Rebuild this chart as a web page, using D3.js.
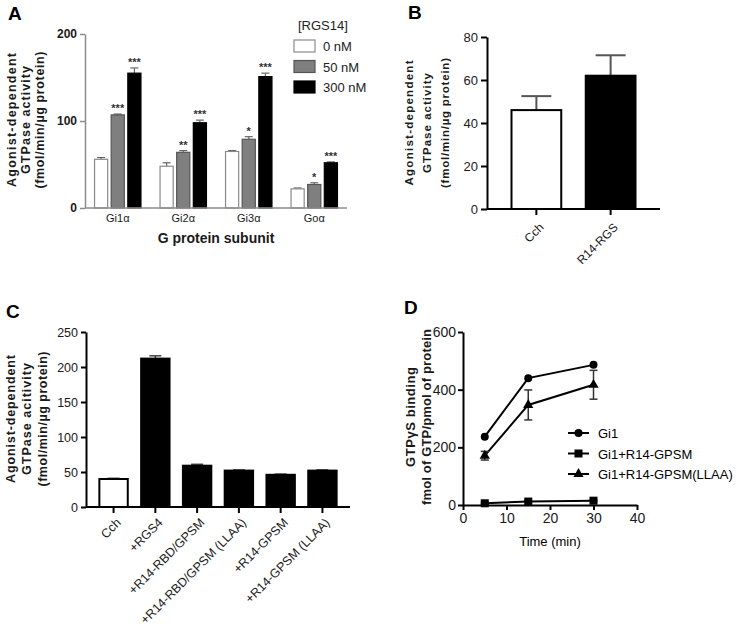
<!DOCTYPE html>
<html>
<head>
<meta charset="utf-8">
<script src="https://cdn.jsdelivr.net/npm/d3@7"></script>
<style>
body { margin: 0; background: white; }
text { font-family: "Liberation Sans", Arial, sans-serif; }
</style>
</head>
<body>
<svg id="view" width="750" height="629"></svg>
<script>
// DATA
var A_GROUPS = ["Gi1\u03b1", "Gi2\u03b1", "Gi3\u03b1", "Go\u03b1"];
var A_SERIES = ["0 nM", "50 nM", "300 nM"];
var A_VALUES = [
    [56, 48, 65, 22],
    [107, 64, 79, 27],
    [155, 98, 151, 52],
];
var A_ERRORS = [
    [2, 4, 1, 1],
    [1, 2, 3, 2],
    [6, 3, 4, 1],
];
var A_STARS = [
    ["", "", "", ""],
    ["***", "**", "*", "*"],
    ["***", "***", "***", "***"],
];
var A_TICKS = [0, 100, 200];

var B_CATS = ["Cch", "R14-RGS"];
var B_VALUES = [46, 62];
var B_ERRORS = [6.5, 9.5];
var B_TICKS = [0, 20, 40, 60, 80];

var C_CATS = ["Cch", "+RGS4", "+R14-RBD/GPSM", "+R14-RBD/GPSM (LLAA)", "+R14-GPSM", "+R14-GPSM (LLAA)"];
var C_VALUES = [40, 212, 59, 52, 46, 52];
var C_ERRORS = [1, 4, 2, 1, 1, 1];
var C_TICKS = [0, 50, 100, 150, 200, 250];

var D_TIMES = [5, 15, 30];
var D_SERIES = ["Gi1", "Gi1+R14-GPSM", "Gi1+R14-GPSM(LLAA)"];
var D_VALUES = [
    [237, 440, 486],
    [6, 12, 15],
    [171, 347, 417],
];
var D_ERRORS = [
    [0, 0, 0],
    [3, 3, 3],
    [15, 52, 50],
];
var D_XTICKS = [0, 10, 20, 30, 40];
var D_YTICKS = [0, 200, 400, 600];

// CONSTANTS
var A_FILLS = ["white", "#7f7f7f", "black"];
var A_STROKES = ["#8a8a8a", "#555", "black"];
var GRAY_AXIS = "#8c8c8c";
var TEXT = "#1a1a1a";
var ACTIVITY = ["Agonist-dependent", "GTPase activity", "(fmol/min/\u00b5g protein)"];


function panelLetter(svg, x, y, letter) {
    svg.append("text")
        .attr("x", x)
        .attr("y", y)
        .attr("font-size", 19)
        .attr("font-weight", "bold")
        .attr("fill", "black")
        .text(letter);
}

// stacked rotated title; lengths stretch the letter spacing like the scan
function yTitle(svg, xs, cy, lines, size, lengths) {
    for (var i = 0; i < lines.length; i++) {
        var t = svg.append("text")
            .attr("transform", "translate(" + xs[i] + "," + cy + ") rotate(-90)")
            .attr("text-anchor", "middle")
            .attr("dominant-baseline", "middle")
            .attr("font-size", size)
            .attr("font-weight", "bold")
            .attr("fill", TEXT)
            .text(lines[i]);
        if (lengths) {
            t.attr("textLength", lengths[i]).attr("lengthAdjust", "spacing");
        }
    }
}

function styleAxis(g, color, width, size) {
    g.selectAll(".domain").attr("stroke", color).attr("stroke-width", width);
    g.selectAll(".tick line").attr("stroke", color).attr("stroke-width", width);
    g.selectAll(".tick text")
        .attr("fill", TEXT)
        .attr("font-size", size)
        .attr("font-family", "Liberation Sans, Arial, sans-serif");
}

// Panel A
function createA(svg) {
    panelLetter(svg, 8, 20, "A");
    var x0 = d3.scaleBand().domain(A_GROUPS).range([85, 347]).paddingInner(0.2).paddingOuter(0.1);
    var x1 = d3.scaleBand().domain(A_SERIES).range([0, x0.bandwidth()]).padding(0.15);
    var y = d3.scaleLinear().domain([0, 200]).range([208, 34]);

    for (var s = 0; s < A_SERIES.length; s++) {
        for (var g = 0; g < A_GROUPS.length; g++) {
            var bx = x0(A_GROUPS[g]) + x1(A_SERIES[s]);
            var v = A_VALUES[s][g];
            var e = A_ERRORS[s][g];
            var cx = bx + x1.bandwidth() / 2;
            svg.append("line")
                .attr("x1", cx).attr("x2", cx)
                .attr("y1", y(v)).attr("y2", y(v + e))
                .attr("stroke", "#666").attr("stroke-width", 1.2);
            svg.append("line")
                .attr("x1", cx - 4).attr("x2", cx + 4)
                .attr("y1", y(v + e)).attr("y2", y(v + e))
                .attr("stroke", "#666").attr("stroke-width", 1.2);
            svg.append("rect")
                .attr("x", bx + 0.5)
                .attr("y", y(v))
                .attr("width", x1.bandwidth() - 1)
                .attr("height", y(0) - y(v))
                .attr("fill", A_FILLS[s])
                .attr("stroke", A_STROKES[s])
                .attr("stroke-width", 1.2);
            if (A_STARS[s][g]) {
                svg.append("text")
                    .attr("x", cx)
                    .attr("y", y(v + e) - 2)
                    .attr("text-anchor", "middle")
                    .attr("font-size", 11)
                    .attr("font-weight", "bold")
                    .attr("fill", "#333")
                    .text(A_STARS[s][g]);
            }
        }
    }

    var ya = svg.append("g").attr("transform", "translate(85,0)")
        .call(d3.axisLeft(y).tickValues(A_TICKS).tickSize(5).tickSizeOuter(0));
    styleAxis(ya, GRAY_AXIS, 1.5, 12);
    ya.selectAll(".tick text").attr("font-weight", "bold");
    var xa = svg.append("g").attr("transform", "translate(0,208)")
        .call(d3.axisBottom(x0).tickSize(0).tickSizeOuter(0).tickPadding(6));
    styleAxis(xa, GRAY_AXIS, 1.5, 11);
    xa.select(".domain").attr("d", "M85,0H347");

    yTitle(svg, [13, 27, 41], 120, ACTIVITY, 12.5, [134, 108, 137]);
    svg.append("text")
        .attr("x", 216).attr("y", 243)
        .attr("text-anchor", "middle")
        .attr("font-size", 14).attr("font-weight", "bold")
        .attr("fill", TEXT)
        .text("G protein subunit");

    // legend
    svg.append("text")
        .attr("x", 298).attr("y", 30)
        .attr("font-size", 13).attr("fill", "#222")
        .text("[RGS14]");
    for (var i = 0; i < A_SERIES.length; i++) {
        var ly = 40 + i * 20.5;
        svg.append("rect")
            .attr("x", 294).attr("y", ly)
            .attr("width", 21).attr("height", 12)
            .attr("fill", A_FILLS[i])
            .attr("stroke", A_STROKES[i]).attr("stroke-width", 1.2);
        svg.append("text")
            .attr("x", 323).attr("y", ly + 11)
            .attr("font-size", 13).attr("fill", "#222")
            .text(A_SERIES[i]);
    }
}

// Panel B
function createB(svg) {
    panelLetter(svg, 408, 19, "B");
    var x = d3.scaleBand().domain(B_CATS).range([487, 660]).padding(0.33);
    var y = d3.scaleLinear().domain([0, 80]).range([209, 37]);
    for (var i = 0; i < B_CATS.length; i++) {
        var cx = x(B_CATS[i]) + x.bandwidth() / 2;
        var v = B_VALUES[i], e = B_ERRORS[i];
        svg.append("line")
            .attr("x1", cx).attr("x2", cx)
            .attr("y1", y(v)).attr("y2", y(v + e))
            .attr("stroke", "#555").attr("stroke-width", 2);
        svg.append("line")
            .attr("x1", cx - 15).attr("x2", cx + 15)
            .attr("y1", y(v + e)).attr("y2", y(v + e))
            .attr("stroke", "#555").attr("stroke-width", 2);
        svg.append("rect")
            .attr("x", x(B_CATS[i]))
            .attr("y", y(v))
            .attr("width", x.bandwidth())
            .attr("height", y(0) - y(v))
            .attr("fill", i === 0 ? "white" : "black")
            .attr("stroke", "black")
            .attr("stroke-width", 2);
    }
    var ya = svg.append("g").attr("transform", "translate(487,0)")
        .call(d3.axisLeft(y).tickValues(B_TICKS).tickSize(6).tickSizeOuter(0));
    styleAxis(ya, "black", 2, 13);
    var xa = svg.append("g").attr("transform", "translate(0,209)")
        .call(d3.axisBottom(x).tickSize(6).tickSizeOuter(0));
    styleAxis(xa, "black", 2, 12);
    xa.select(".domain").attr("d", "M487,0H660");
    xa.selectAll(".tick text")
        .attr("text-anchor", "end")
        .attr("transform", "translate(0,6) rotate(-45)")
        .attr("dx", "-0.3em").attr("dy", "0.5em");
    yTitle(svg, [410, 428, 446], 123, ACTIVITY, 11.5, [125, 100, 130]);
}

// Panel C
function createC(svg) {
    panelLetter(svg, 6, 318, "C");
    var x = d3.scaleBand().domain(C_CATS).range([86, 350]).padding(0.32);
    var y = d3.scaleLinear().domain([0, 250]).range([507, 332]);
    for (var i = 0; i < C_CATS.length; i++) {
        var cx = x(C_CATS[i]) + x.bandwidth() / 2;
        var v = C_VALUES[i], e = C_ERRORS[i];
        svg.append("line")
            .attr("x1", cx).attr("x2", cx)
            .attr("y1", y(v)).attr("y2", y(v + e))
            .attr("stroke", "#444").attr("stroke-width", 1.5);
        svg.append("line")
            .attr("x1", cx - 6).attr("x2", cx + 6)
            .attr("y1", y(v + e)).attr("y2", y(v + e))
            .attr("stroke", "#444").attr("stroke-width", 1.5);
        svg.append("rect")
            .attr("x", x(C_CATS[i]))
            .attr("y", y(v))
            .attr("width", x.bandwidth())
            .attr("height", y(0) - y(v))
            .attr("fill", i === 0 ? "white" : "black")
            .attr("stroke", "black")
            .attr("stroke-width", 2);
    }
    var ya = svg.append("g").attr("transform", "translate(86,0)")
        .call(d3.axisLeft(y).tickValues(C_TICKS).tickSize(5).tickSizeOuter(0));
    styleAxis(ya, "black", 2, 12.5);
    var xa = svg.append("g").attr("transform", "translate(0,507)")
        .call(d3.axisBottom(x).tickSize(6).tickSizeOuter(0));
    styleAxis(xa, "black", 2, 12.5);
    xa.select(".domain").attr("d", "M86,0H350");
    xa.selectAll(".tick text")
        .attr("text-anchor", "end")
        .attr("transform", "translate(0,3) rotate(-45)")
        .attr("dx", "-0.3em").attr("dy", "0.5em");
    yTitle(svg, [12, 28, 44], 419, ["Agonist-dependent", "GTPase acitivity", "(fmol/min/\u00b5g protein)"], 12.5, [128, 112, 135]);
}

// Panel D
function marker(g, type, x, y) {
    if (type === 0) {
        g.append("circle").attr("cx", x).attr("cy", y).attr("r", 4).attr("fill", "black");
    }
    else if (type === 1) {
        g.append("rect").attr("x", x - 4).attr("y", y - 4).attr("width", 8).attr("height", 8).attr("fill", "black");
    }
    else {
        g.append("path")
            .attr("d", d3.symbol().type(d3.symbolTriangle).size(45)())
            .attr("transform", "translate(" + x + "," + y + ")")
            .attr("fill", "black");
    }
}

function createD(svg) {
    panelLetter(svg, 404, 314, "D");
    var x = d3.scaleLinear().domain([0, 40]).range([463, 637]);
    var y = d3.scaleLinear().domain([0, 600]).range([505, 332]);
    var line = d3.line().x(function(d) { return x(d[0]); }).y(function(d) { return y(d[1]); });
    var g = svg.append("g");
    for (var s = 0; s < D_SERIES.length; s++) {
        var pts = D_TIMES.map(function(t, i) { return [t, D_VALUES[s][i]]; });
        g.append("path")
            .attr("d", line(pts))
            .attr("fill", "none")
            .attr("stroke", "black")
            .attr("stroke-width", 2);
        for (var i = 0; i < D_TIMES.length; i++) {
            var e = D_ERRORS[s][i];
            var px = x(D_TIMES[i]);
            if (e > 0) {
                var y1 = y(D_VALUES[s][i] - e), y2 = y(D_VALUES[s][i] + e);
                g.append("line").attr("x1", px).attr("x2", px).attr("y1", y1).attr("y2", y2)
                    .attr("stroke", "#333").attr("stroke-width", 1.5);
                g.append("line").attr("x1", px - 4).attr("x2", px + 4).attr("y1", y1).attr("y2", y1)
                    .attr("stroke", "#333").attr("stroke-width", 1.5);
                g.append("line").attr("x1", px - 4).attr("x2", px + 4).attr("y1", y2).attr("y2", y2)
                    .attr("stroke", "#333").attr("stroke-width", 1.5);
            }
            marker(g, s, px, y(D_VALUES[s][i]));
        }
    }
    var ya = svg.append("g").attr("transform", "translate(463,0)")
        .call(d3.axisLeft(y).tickValues(D_YTICKS).tickSize(5).tickSizeOuter(0).tickPadding(2));
    styleAxis(ya, "black", 2, 14);
    var xa = svg.append("g").attr("transform", "translate(0,505)")
        .call(d3.axisBottom(x).tickValues(D_XTICKS).tickSize(5).tickSizeOuter(0).tickPadding(3));
    styleAxis(xa, "black", 2, 14);
    svg.append("text")
        .attr("x", 550).attr("y", 546)
        .attr("text-anchor", "middle")
        .attr("font-size", 13).attr("fill", "black")
        .text("Time (min)");
    yTitle(svg, [412, 428], 417, ["GTP\u03b3S binding", "fmol of GTP/pmol of protein"], 13, [100, 176]);

    // legend
    for (var s = 0; s < D_SERIES.length; s++) {
        var ly = 433 + s * 20.5;
        svg.append("line")
            .attr("x1", 568).attr("x2", 589)
            .attr("y1", ly).attr("y2", ly)
            .attr("stroke", "black").attr("stroke-width", 2);
        marker(svg, s, 578.5, ly);
        svg.append("text")
            .attr("x", 598).attr("y", ly + 5)
            .attr("font-size", 13).attr("fill", "black")
            .text(D_SERIES[s]);
    }
}


// main
function main() {
    var svg = d3.select("#view");
    createA(svg);
    createB(svg);
    createC(svg);
    createD(svg);
}

main();
</script>
</body>
</html>
